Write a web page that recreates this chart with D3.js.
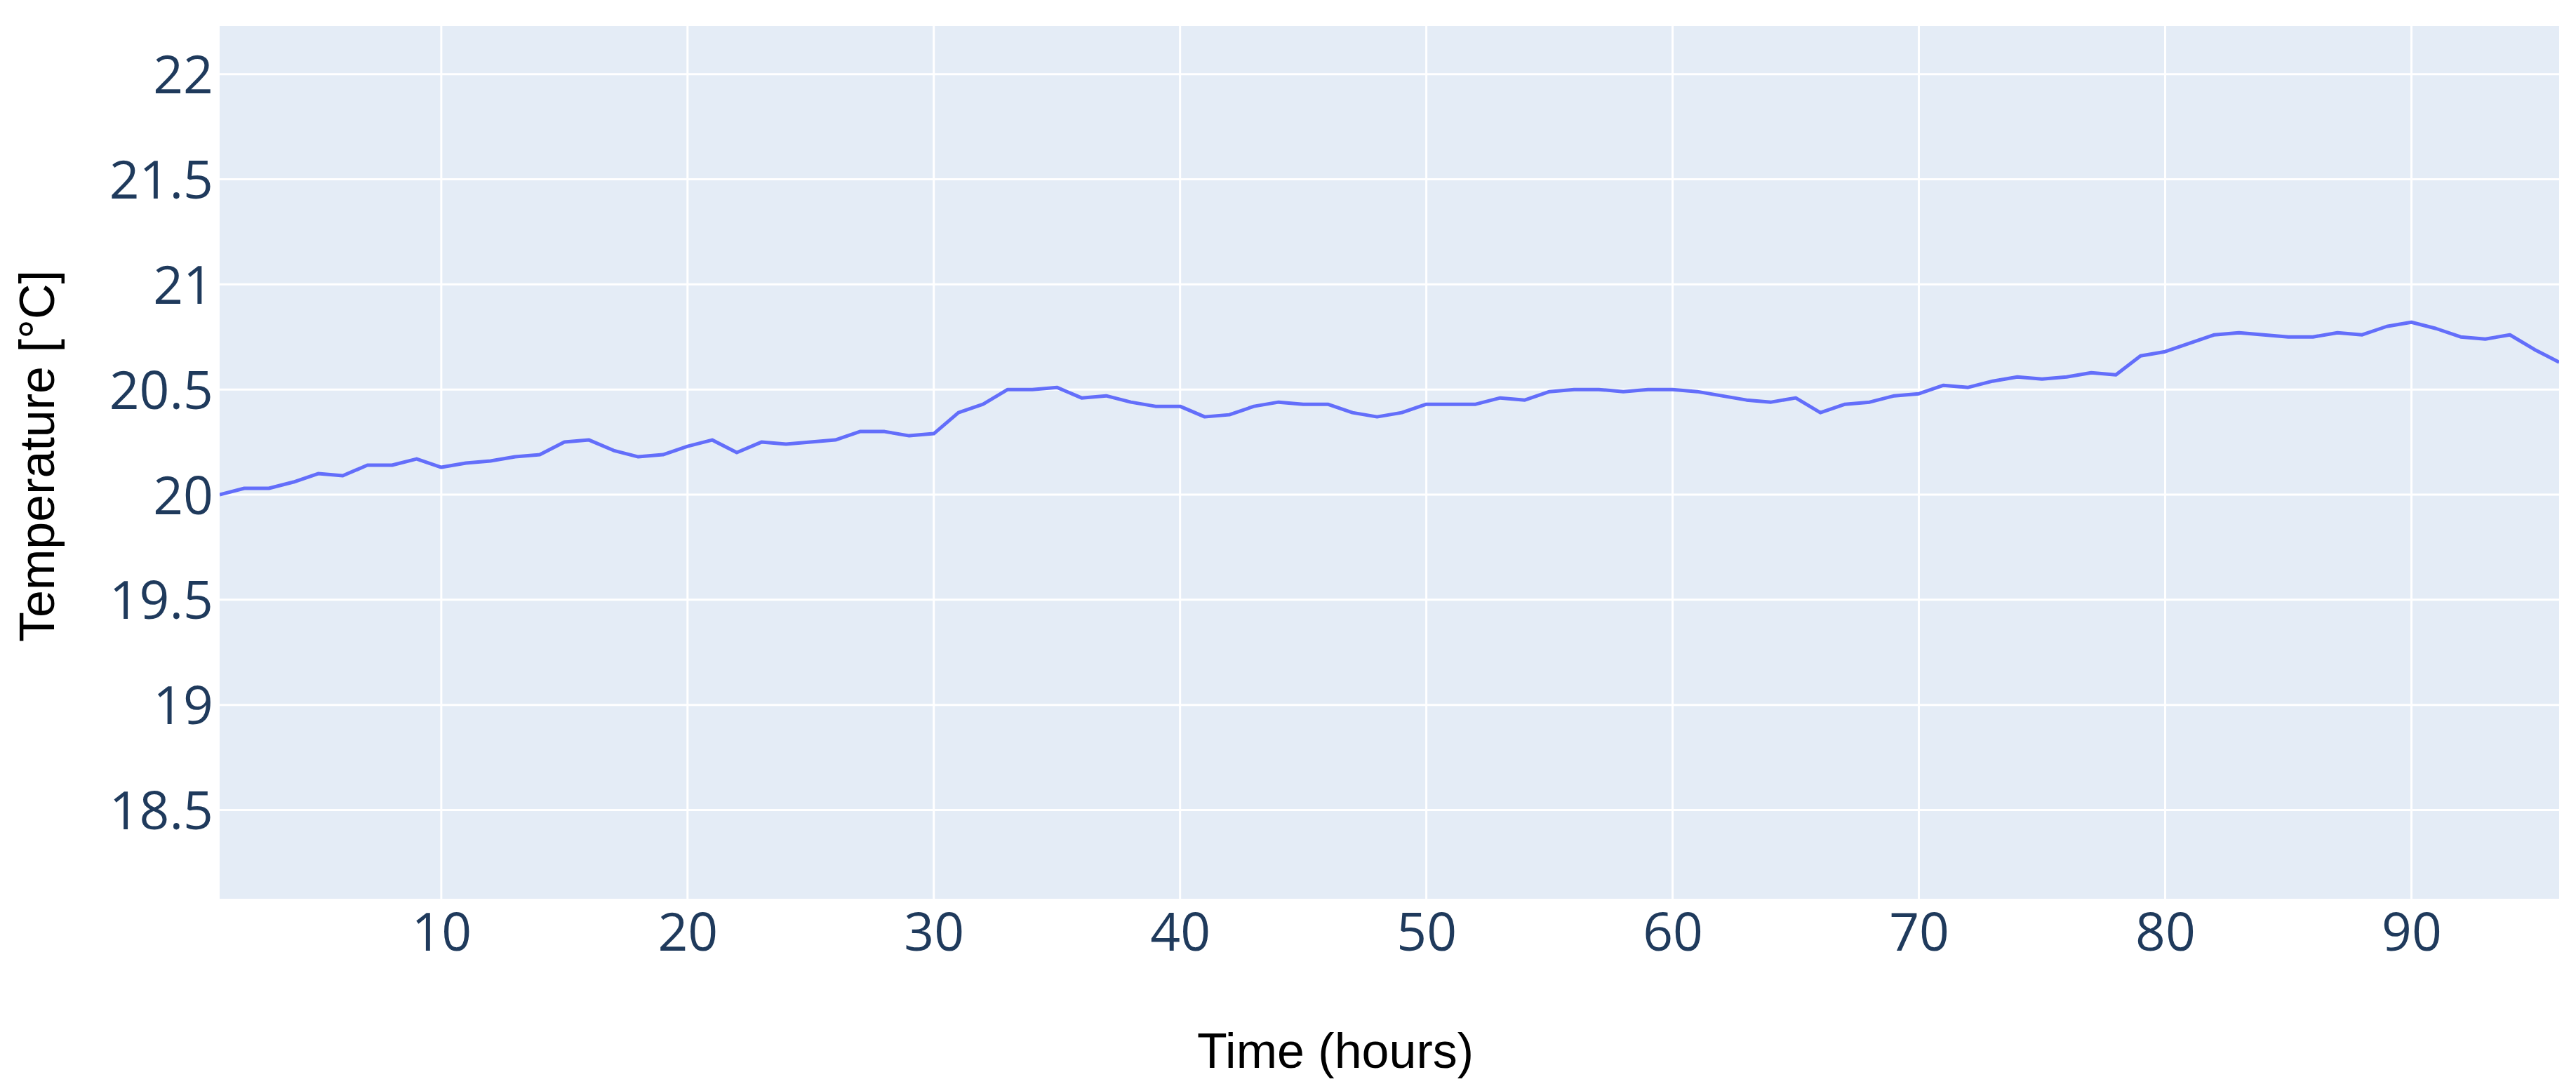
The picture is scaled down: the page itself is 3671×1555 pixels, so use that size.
<!DOCTYPE html>
<html>
<head>
<meta charset="utf-8">
<script src="https://cdn.jsdelivr.net/npm/d3@7"></script>
<style>
  html, body { margin: 0; padding: 0; background: #ffffff; }
  svg { display: block; }
</style>
</head>
<body>
<svg id="chart" width="3671" height="1555"></svg>
<script>
const hours = [1,2,3,4,5,6,7,8,9,10,11,12,13,14,15,16,17,18,19,20,21,22,23,24,
  25,26,27,28,29,30,31,32,33,34,35,36,37,38,39,40,41,42,43,44,45,46,47,48,
  49,50,51,52,53,54,55,56,57,58,59,60,61,62,63,64,65,66,67,68,69,70,71,72,
  73,74,75,76,77,78,79,80,81,82,83,84,85,86,87,88,89,90,91,92,93,94,95,96];
const temperature = [20.00,20.03,20.03,20.06,20.10,20.09,20.14,20.14,20.17,20.13,20.15,20.16,
  20.18,20.19,20.25,20.26,20.21,20.18,20.19,20.23,20.26,20.20,20.25,20.24,
  20.25,20.26,20.30,20.30,20.28,20.29,20.39,20.43,20.50,20.50,20.51,20.46,
  20.47,20.44,20.42,20.42,20.37,20.38,20.42,20.44,20.43,20.43,20.39,20.37,
  20.39,20.43,20.43,20.43,20.46,20.45,20.49,20.50,20.50,20.49,20.50,20.50,
  20.49,20.47,20.45,20.44,20.46,20.39,20.43,20.44,20.47,20.48,20.52,20.51,
  20.54,20.56,20.55,20.56,20.58,20.57,20.66,20.68,20.72,20.76,20.77,20.76,
  20.75,20.75,20.77,20.76,20.80,20.82,20.79,20.75,20.74,20.76,20.69,20.63];
const xTicks = [10,20,30,40,50,60,70,80,90];
const yTicks = [18.5,19,19.5,20,20.5,21,21.5,22];
const xDomain = [1, 96];
const yDomain = [18.078, 22.229];
const xTitle = "Time (hours)";
const yTitle = "Temperature [°C]";

const svg = d3.select("#chart");
const m = {left: 313, right: 3647, top: 37, bottom: 1281};

const x = d3.scaleLinear().domain(xDomain).range([m.left, m.right]);
const y = d3.scaleLinear().domain(yDomain).range([m.bottom, m.top]);

// plot background
svg.append("rect")
  .attr("x", m.left).attr("y", m.top)
  .attr("width", m.right - m.left).attr("height", m.bottom - m.top)
  .attr("fill", "#E4ECF6");

// gridlines
const grid = svg.append("g");
grid.selectAll("line.gx").data(xTicks).enter().append("line")
  .attr("x1", d => x(d)).attr("x2", d => x(d))
  .attr("y1", m.top).attr("y2", m.bottom)
  .attr("stroke", "#ffffff").attr("stroke-width", 3);
grid.selectAll("line.gy").data(yTicks).enter().append("line")
  .attr("x1", m.left).attr("x2", m.right)
  .attr("y1", d => y(d)).attr("y2", d => y(d))
  .attr("stroke", "#ffffff").attr("stroke-width", 3);

// axes (labels only)
const tickFont = "'Open Sans', 'Noto Sans', sans-serif";
const xAxis = svg.append("g")
  .attr("transform", `translate(0,${m.bottom})`)
  .call(d3.axisBottom(x).tickValues(xTicks).tickSize(0).tickPadding(0).tickFormat(d3.format("d")));
xAxis.select(".domain").remove();
xAxis.selectAll("text")
  .attr("y", 74).attr("dy", null)
  .attr("font-family", tickFont).attr("font-size", 75).attr("fill", "#1f3a5c");

const yAxis = svg.append("g")
  .attr("transform", `translate(${m.left},0)`)
  .call(d3.axisLeft(y).tickValues(yTicks).tickSize(0).tickPadding(0).tickFormat(d => String(d)));
yAxis.select(".domain").remove();
yAxis.selectAll("text")
  .attr("x", -9).attr("dy", "0.36em")
  .attr("font-family", tickFont).attr("font-size", 75).attr("fill", "#1f3a5c");

// line
svg.append("defs").append("clipPath").attr("id", "clip")
  .append("rect").attr("x", m.left).attr("y", m.top)
  .attr("width", m.right - m.left).attr("height", m.bottom - m.top);

const line = d3.line().x((d, i) => x(hours[i])).y(d => y(d));
svg.append("path")
  .datum(temperature)
  .attr("clip-path", "url(#clip)")
  .attr("d", line)
  .attr("fill", "none")
  .attr("stroke", "#636EFA")
  .attr("stroke-width", 5)
  .attr("stroke-linejoin", "round");

// titles
const titleFont = "'Liberation Sans', Arial, sans-serif";
svg.append("text")
  .attr("x", 1903).attr("y", 1522)
  .attr("text-anchor", "middle")
  .attr("font-family", titleFont).attr("font-size", 70).attr("fill", "#000000")
  .text(xTitle);
svg.append("text")
  .attr("transform", "translate(77,650) rotate(-90)")
  .attr("text-anchor", "middle")
  .attr("font-family", titleFont).attr("font-size", 70).attr("fill", "#000000")
  .text(yTitle);
</script>
</body>
</html>
